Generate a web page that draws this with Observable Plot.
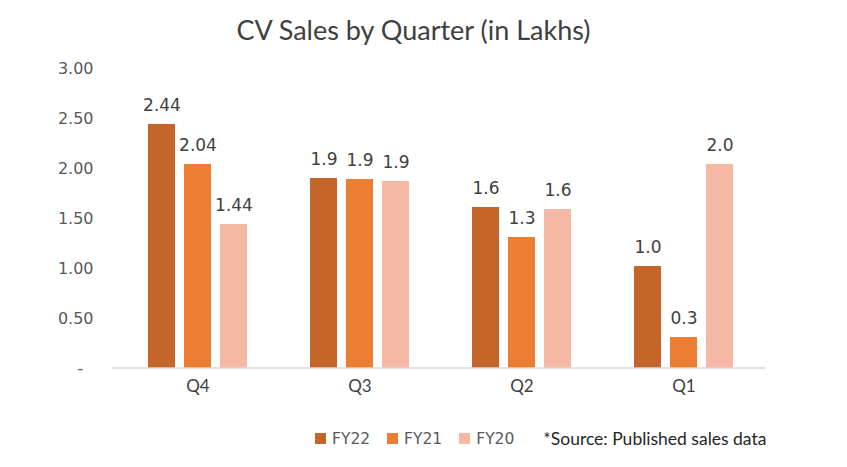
<!DOCTYPE html>
<html>
<head>
<meta charset="utf-8">
<script src="https://cdn.jsdelivr.net/npm/d3@7"></script>
<script src="https://cdn.jsdelivr.net/npm/@observablehq/plot@0.6"></script>
<style>
  html, body { margin: 0; padding: 0; background: #fff; }
  #wrap { width: 847px; height: 467px; position: relative; overflow: hidden; }
  #title { height: 50px; line-height: 60px; text-align: center; padding-right: 20px; font-family: Lato, "Open Sans", sans-serif; font-size: 27px; color: #404040; }
  #legend { height: 57px; display: flex; align-items: center; padding-left: 315px; box-sizing: border-box; }
  .sw { width: 11px; height: 11px; margin-right: 6px; }
  .lt { font-family: "DejaVu Sans", sans-serif; font-size: 15.5px; color: #595959; margin-right: 17px; }
  .src { font-family: Lato, sans-serif; font-size: 17.5px; color: #262626; margin-left: 12px; }
</style>
</head>
<body>
<div id="wrap">
  <div id="title">CV Sales by Quarter (in Lakhs)</div>
  <div id="chart"></div>
  <div id="legend"></div>
</div>
<script>
const quarters = ["Q4", "Q3", "Q2", "Q1"];
const years = ["FY22", "FY21", "FY20"];
const fy22 = [2.44, 1.90, 1.61, 1.02];
const fy21 = [2.04, 1.89, 1.31, 0.31];
const fy20 = [1.44, 1.87, 1.59, 2.04];
const fy22Labels = ["2.44", "1.9", "1.6", "1.0"];
const fy21Labels = ["2.04", "1.9", "1.3", "0.3"];
const fy20Labels = ["1.44", "1.9", "1.6", "2.0"];
const yTicks = [0, 0.5, 1, 1.5, 2, 2.5, 3];
const colors = ["#C4652A", "#ED7D31", "#F4B8A4"];
const sourceNote = "*Source: Published sales data";

const series = [fy22, fy21, fy20];
const labelSeries = [fy22Labels, fy21Labels, fy20Labels];
const data = quarters.flatMap((q, i) =>
  years.map((y, j) => ({ quarter: q, year: y, value: series[j][i], label: labelSeries[j][i] }))
);

const W = 847, H = 360, mL = 115, mR = 82, mT = 18, mB = 42;

const chart = Plot.plot({
  width: W,
  height: H,
  marginLeft: mL,
  marginRight: mR,
  marginTop: mT,
  marginBottom: mB,
  style: { fontFamily: "DejaVu Sans, sans-serif", fontSize: "16px", color: "#595959", background: "#fff" },
  fx: { domain: quarters, paddingInner: 0.39, paddingOuter: 0.195, label: null, axis: "bottom", tickSize: 0, tickPadding: 11 },
  x: { domain: years, paddingInner: 0.25, paddingOuter: 0, axis: null },
  y: { domain: [0, 3], ticks: yTicks, tickFormat: d => d === 0 ? "-\u2007" : d3.format(".2f")(d), tickSize: 0, tickPadding: 55, label: null },
  color: { domain: years, range: colors },
  marks: [
    Plot.barY(data, { fx: "quarter", x: "year", y: "value", fill: "year" }),
    Plot.text(data, { fx: "quarter", x: "year", y: "value", text: "label", dy: -19, fill: "#404040", fontSize: 17 })
  ]
});

// style fx axis labels (Calibri-like)
d3.select(chart).selectAll("g[aria-label='fx-axis tick label'] text, g[aria-label='fx-axis'] text")
  .style("font-family", "Lato, sans-serif").style("font-size", "17px").attr("fill", "#404040");

// full-width baseline using the y scale
const yS = chart.scale("y");
const y0 = yS.apply(0);
d3.select(chart).append("line")
  .attr("x1", mL - 3).attr("x2", W - mR)
  .attr("y1", y0).attr("y2", y0)
  .attr("stroke", "#D9D9D9").attr("stroke-width", 1.5);

document.getElementById("chart").appendChild(chart);

const legend = d3.select("#legend");
years.forEach((y, j) => {
  legend.append("div").attr("class", "sw").style("background", colors[j]);
  legend.append("div").attr("class", "lt").text(y);
});
legend.append("div").attr("class", "src").text(sourceNote);
</script>
</body>
</html>
